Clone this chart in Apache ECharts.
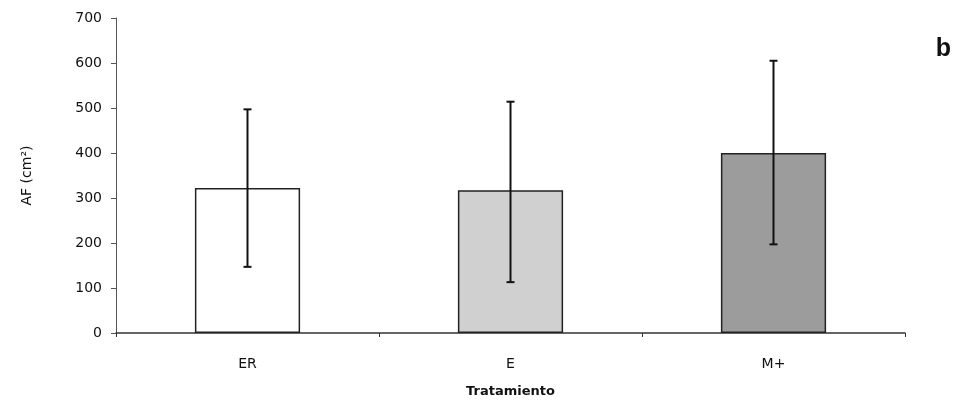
<!DOCTYPE html>
<html>
<head>
<meta charset="utf-8">
<script src="https://cdn.jsdelivr.net/npm/echarts@6/dist/echarts.min.js"></script>
<style>
html,body{margin:0;padding:0;background:#fff;}
#c{width:960px;height:409px;}
</style>
</head>
<body>
<div id="c"></div>
<script>
const categories = ['ER', 'E', 'M+'];
const means = [322, 317, 400];
const errUpper = [497, 514, 605];
const errLower = [147, 113, 197];
const yTicks = [0, 100, 200, 300, 400, 500, 600, 700];
const barColors = ['#ffffff', '#d0d0d0', '#9c9c9c'];

const chart = echarts.init(document.getElementById('c'));
const font = 'Liberation Sans, Arial, sans-serif';

chart.setOption({
  animation: false,
  backgroundColor: '#fff',
  grid: { left: 116, right: 55, top: 18, bottom: 76 },
  title: {
    text: 'b', right: 4, top: 32,
    textStyle: { fontFamily: font, fontSize: 25, fontWeight: 'bold', color: '#111' }
  },
  xAxis: {
    type: 'category',
    data: categories,
    name: 'Tratamiento',
    nameLocation: 'middle',
    nameGap: 52,
    nameTextStyle: { fontFamily: 'DejaVu Sans, sans-serif', fontSize: 13, fontWeight: 'bold', color: '#111' },
    axisLine: { lineStyle: { color: '#333', width: 1.5 } },
    axisTick: { show: true, length: 4, lineStyle: { color: '#333' } },
    axisLabel: { fontFamily: 'DejaVu Sans, sans-serif', fontSize: 14, color: '#111', margin: 24 }
  },
  yAxis: {
    type: 'value',
    min: 0, max: 700, interval: 100,
    name: 'AF (cm²)',
    nameLocation: 'middle',
    nameGap: 82,
    nameTextStyle: { fontFamily: 'DejaVu Sans, sans-serif', fontSize: 14, color: '#111' },
    axisLine: { show: true, lineStyle: { color: '#555', width: 1 } },
    axisTick: { show: true, length: 5, inside: false, lineStyle: { color: '#555' } },
    axisLabel: {
      fontFamily: 'DejaVu Sans, sans-serif', fontSize: 14, color: '#111', margin: 14,
      formatter: v => yTicks.indexOf(v) >= 0 ? String(v) : ''
    },
    splitLine: { show: false }
  },
  series: [
    {
      type: 'bar',
      barWidth: '40%',
      data: means.map((v, i) => ({
        value: v,
        itemStyle: { color: barColors[i], borderColor: '#222', borderWidth: 1.5 }
      }))
    },
    {
      type: 'custom',
      z: 10,
      data: means.map((v, i) => [i, errLower[i], errUpper[i]]),
      renderItem: function (params, api) {
        const x = api.value(0);
        const lo = api.coord([x, api.value(1)]);
        const hi = api.coord([x, api.value(2)]);
        const hw = 4;
        const st = { stroke: '#111', lineWidth: 2 };
        return {
          type: 'group',
          children: [
            { type: 'line', shape: { x1: hi[0], y1: hi[1], x2: lo[0], y2: lo[1] }, style: st },
            { type: 'line', shape: { x1: hi[0] - hw, y1: hi[1], x2: hi[0] + hw, y2: hi[1] }, style: st },
            { type: 'line', shape: { x1: lo[0] - hw, y1: lo[1], x2: lo[0] + hw, y2: lo[1] }, style: st }
          ]
        };
      }
    }
  ]
});
</script>
</body>
</html>
